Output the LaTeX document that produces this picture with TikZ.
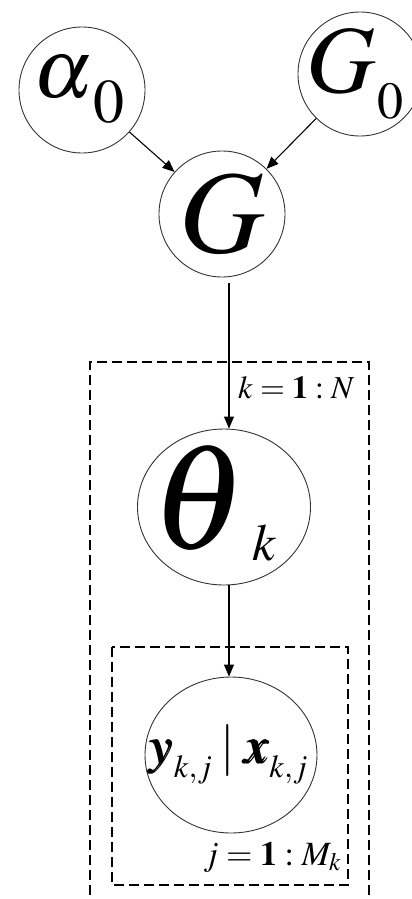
\documentclass[tikz,border=0pt]{standalone}
\usepackage{mathptmx}
\usepackage{bm}
\usetikzlibrary{arrows.meta,shapes.geometric}

% subscript of a given size, dropped below the baseline
\newcommand{\dropsub}[3]{\raisebox{-#2pt}{\fontsize{#1}{#1}\selectfont$#3$}}

\tikzset{
  var/.style={draw=black!80, line width=0.9pt, circle, inner sep=0pt},
  evar/.style={draw=black!80, line width=0.9pt, ellipse, inner sep=0pt},
  vartext/.style={inner sep=0pt},
  edge/.style={-{Triangle[length=12pt,width=10pt]}, line width=1.1pt},
  plate/.style={dashed, dash pattern=on 10pt off 5pt, line width=1.1pt}
}

\begin{document}
\begin{tikzpicture}[x=1pt,y=-1pt]
        \useasboundingbox (0,0) rectangle (412,899);
        % Hyper-parameters
        \node[var, minimum size=126pt] (alpha) at (82,90) {};
        \node[vartext, font=\fontsize{84}{84}\selectfont] at ([xshift=-3pt]alpha) {$\alpha$\dropsub{62}{25}{0}};
        \node[var, minimum size=124pt] (base) at (360,74) {};
        \node[vartext, font=\fontsize{96}{96}\selectfont] at ([xshift=-5pt]base) {$G$\kern2pt\dropsub{52}{26}{0}};
        \node[var, minimum size=126pt] (G) at (222,214) {};
        \node[vartext, font=\fontsize{118}{118}\selectfont] at (G) {$G$};
        \draw[edge] (alpha) -- (G);
        \draw[edge] (base) -- (G);
        % Outer plate
        \coordinate (axis) at (229,0);
        \draw[plate] (90,910) |- (369,362) -- (369,910);
        \node[anchor=base west, inner sep=0pt, font=\fontsize{32}{32}\selectfont] (kN) at (238,398) {$k = \mathbf{1} : N$};
        \node[evar, minimum width=173pt, minimum height=156pt] (theta) at (224,507) {};
        \node[vartext, font=\fontsize{150}{150}\selectfont] at ([xshift=-10pt, yshift=4pt]theta) {$\theta$\kern5pt\dropsub{52}{12}{k}};
        \draw[edge, shorten <=6pt] (G.south -| axis) -- (theta.north -| axis);
        % Inner plate
        \draw[plate] (112,647) rectangle (348,885);
        \node[evar, minimum width=172pt, minimum height=156pt] (obs) at (231,755) {};
        \node[vartext, font=\fontsize{52}{52}\selectfont] at ([xshift=-3pt]obs) {$\bm{y}$\dropsub{32}{14}{k{,}j}\,$|$\,$\bm{x}$\dropsub{32}{14}{k{,}j}};
        \draw[edge] (theta.south -| axis) -- (obs.north -| axis);
        \node[anchor=base west, inner sep=0pt, font=\fontsize{34}{34}\selectfont] (jM) at (203,865) {$j = \mathbf{1} : M_k$};
\end{tikzpicture}
\end{document}
